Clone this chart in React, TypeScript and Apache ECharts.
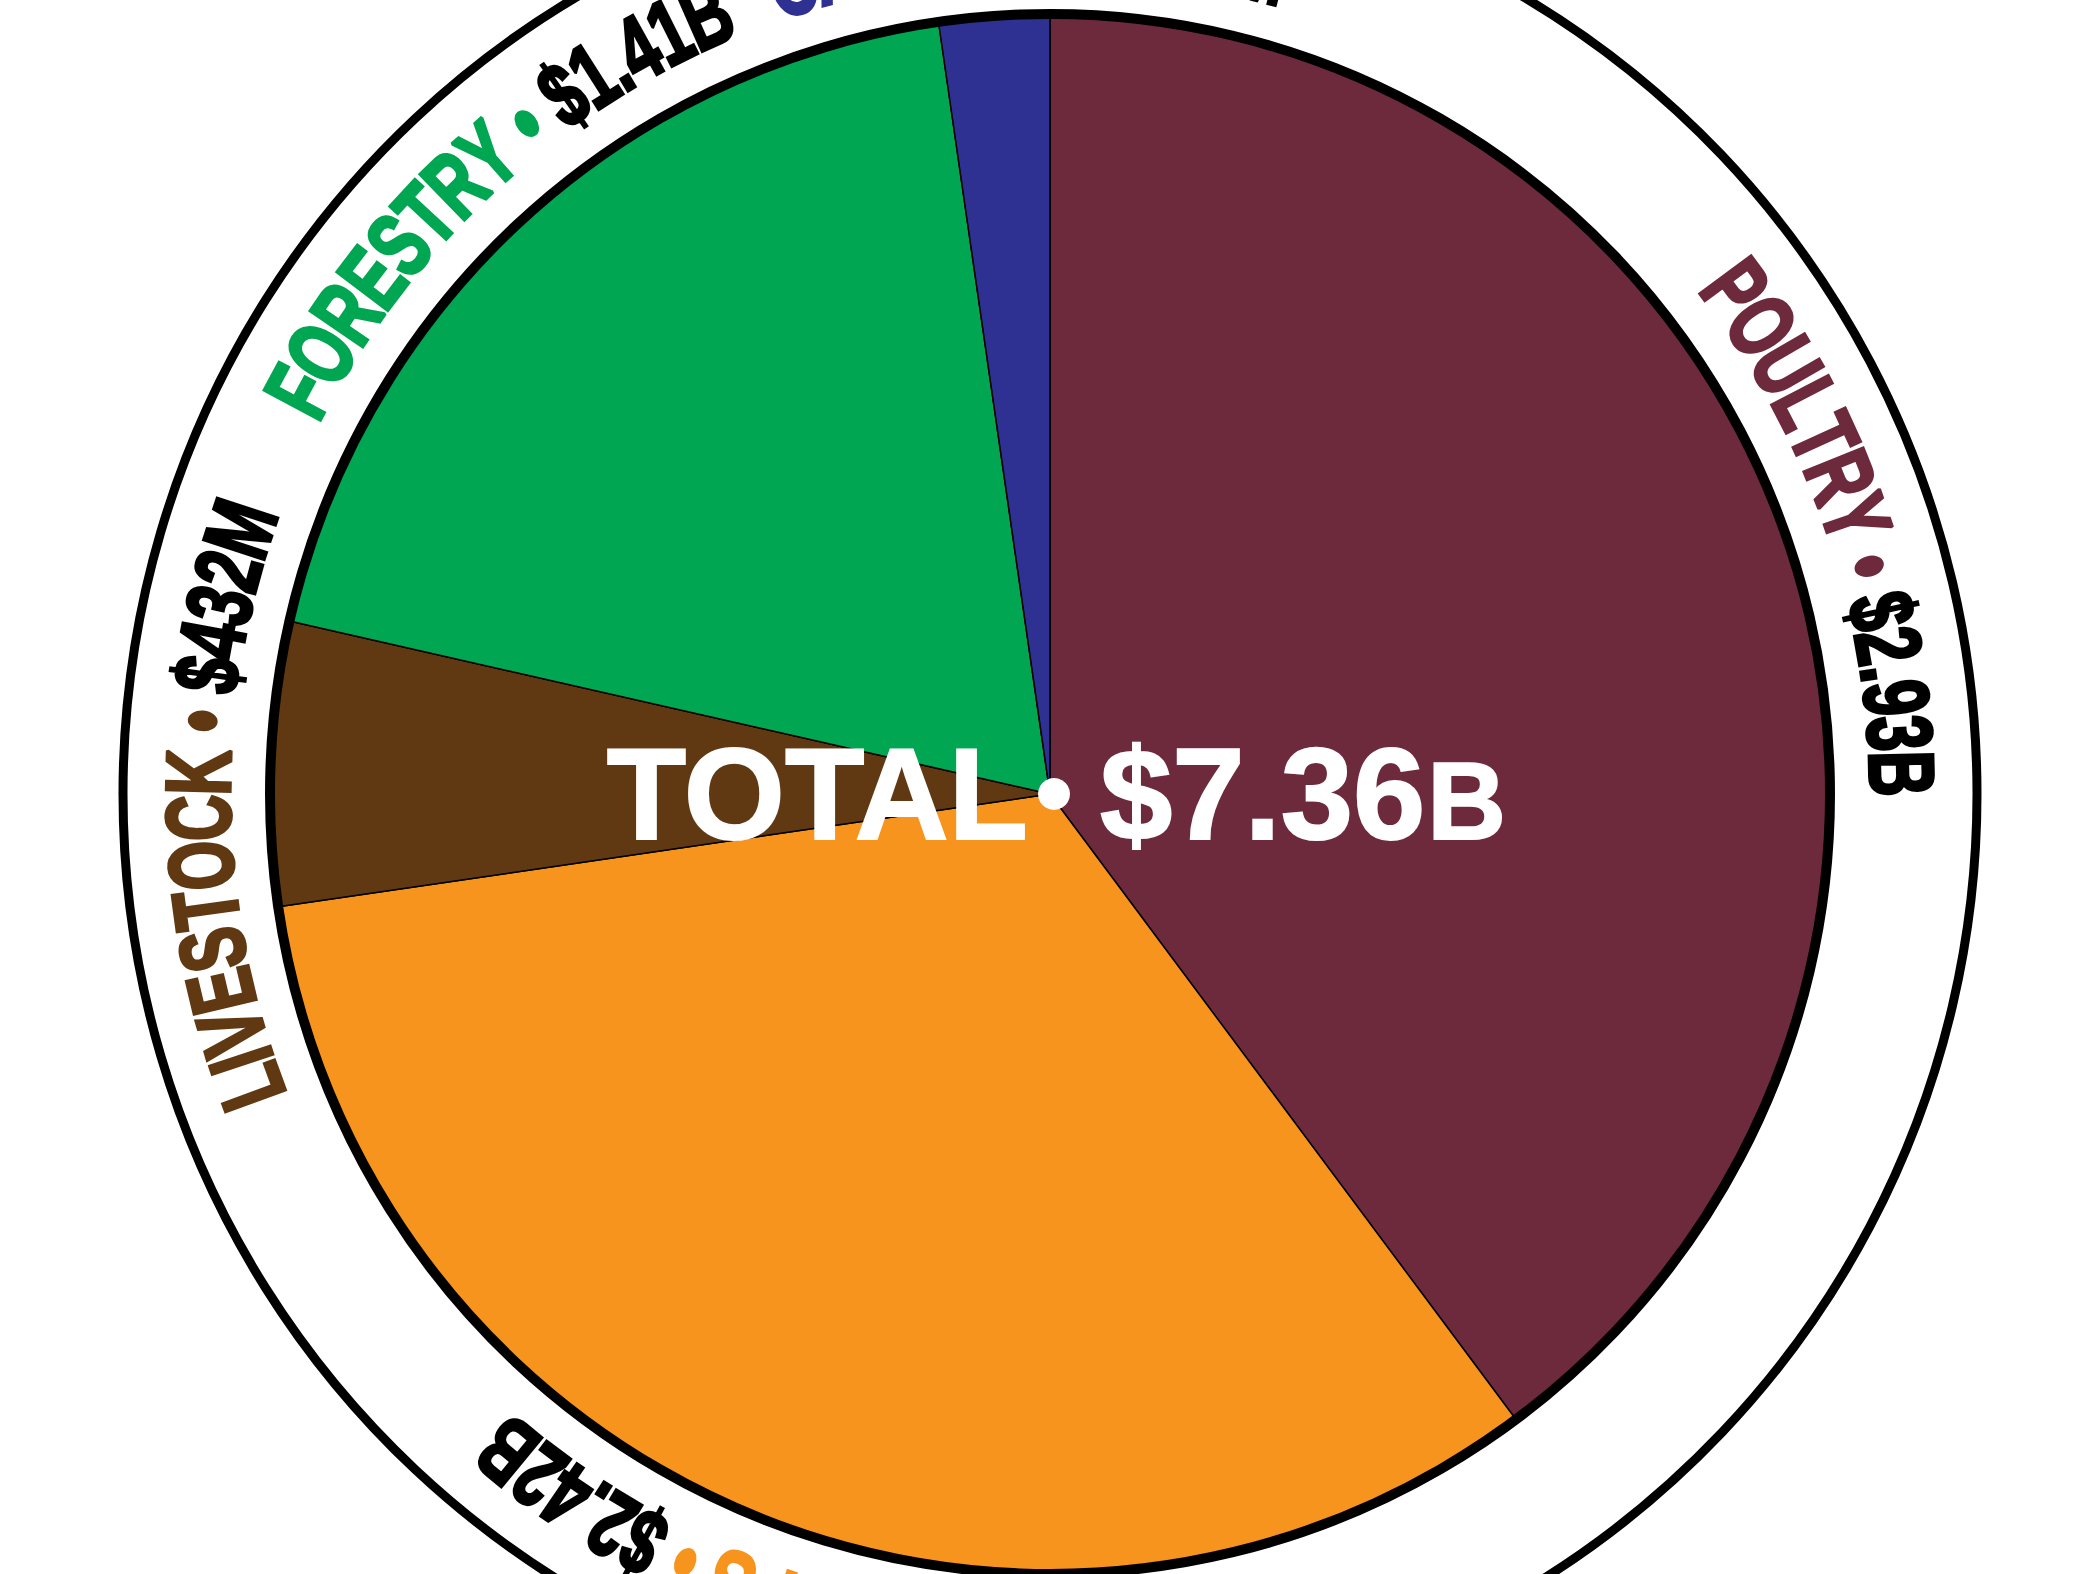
import React, { useEffect, useRef } from "react";
import * as echarts from "echarts";

// ---- data ----
const categories = ["POULTRY", "CROPS", "LIVESTOCK", "FORESTRY", "CATFISH"];
const values = [2.93, 2.42, 0.432, 1.41, 0.168]; // billions of dollars
const valueLabels = ["$2.93B", "$2.42B", "$432M", "$1.41B", "$168M"];
const colors = ["#6E2A3D", "#F7941D", "#603913", "#00A651", "#2E3192"];
const totalWord = "TOTAL";

// ---- layout ----
const W = 2100;
const H = 1574;
const CX = 1050;
const CY = 794;
const PIE_R = 780;
const RING_R = 927;
const TEXT_R = 852;
const RING_FONT = 92;
const CONDENSE = 0.69;
const FAMILY = "Liberation Sans";
const CENTER_FONT = 130;
const labelShiftDeg = [-0.5, 2.2, -3, 0, 2.6];

function makeMeasure() {
  const canvas = document.createElement("canvas");
  const ctx = canvas.getContext("2d");
  return (text: string, size: number) => {
    if (!ctx) return text.length * size * 0.6;
    ctx.font = `bold ${size}px "${FAMILY}"`;
    return ctx.measureText(text).width;
  };
}

export default function App() {
  const ref = useRef<HTMLDivElement>(null);

  useEffect(() => {
    if (!ref.current) return;
    const chart = echarts.init(ref.current, undefined, { renderer: "svg" });
    const measure = makeMeasure();
    const total = values.reduce((a, b) => a + b, 0);

    const graphics: any[] = [];

    // outer thin ring
    graphics.push({
      type: "circle",
      silent: true,
      z: 5,
      shape: { cx: CX, cy: CY, r: RING_R },
      style: { fill: "none", stroke: "#000", lineWidth: 9 },
    });
    // thick pie outline
    graphics.push({
      type: "circle",
      silent: true,
      z: 50,
      shape: { cx: CX, cy: CY, r: PIE_R },
      style: { fill: "none", stroke: "#000", lineWidth: 10 },
    });

    // curved labels
    let cum = 0;
    values.forEach((v, i) => {
      const mid =
        ((cum + v / 2) / total) * Math.PI * 2 + (labelShiftDeg[i] * Math.PI) / 180;
      cum += v;
      const chars: { ch: string; color: string; w: number }[] = [];
      const push = (s: string, color: string) => {
        for (const ch of Array.from(s)) {
          chars.push({ ch, color, w: measure(ch, RING_FONT) * CONDENSE });
        }
      };
      push(categories[i], colors[i]);
      push(" \u2022 ", colors[i]);
      push(valueLabels[i], "#000");
      const L = chars.reduce((a, c) => a + c.w, 0);
      let acc = 0;
      const start = mid - L / 2 / TEXT_R;
      chars.forEach((c) => {
        const th = start + (acc + c.w / 2) / TEXT_R;
        acc += c.w;
        if (c.ch === " ") return;
        graphics.push({
          type: "text",
          silent: true,
          z: 20,
          x: CX + TEXT_R * Math.sin(th),
          y: CY - TEXT_R * Math.cos(th),
          rotation: -th,
          scaleX: CONDENSE,
          style: {
            text: c.ch,
            fill: c.color,
            stroke: c.color,
            lineWidth: 3.5,
            fontFamily: FAMILY,
            fontWeight: "bold",
            fontSize: RING_FONT,
            align: "center",
            verticalAlign: "middle",
          },
        });
      });
    });

    // center total
    const uSize = Math.round(CENTER_FONT * 0.84);
    const totalNum = "$" + total.toFixed(2);
    const numW = measure(totalNum, CENTER_FONT);
    const centerText = (text: string, x: number, y: number, size: number, align: string) => ({
      type: "text",
      silent: true,
      z: 60,
      x,
      y,
      style: {
        text,
        fill: "#fff",
        stroke: "#fff",
        lineWidth: 2,
        fontFamily: FAMILY,
        fontWeight: "bold",
        fontSize: size,
        align,
        verticalAlign: "bottom",
      },
    });
    graphics.push(centerText(totalWord, CX - 22, CY + 65, CENTER_FONT, "right"));
    graphics.push({
      type: "circle",
      silent: true,
      z: 60,
      shape: { cx: CX + 4, cy: CY, r: 16 },
      style: { fill: "#fff" },
    });
    graphics.push(centerText(totalNum, CX + 50, CY + 65, CENTER_FONT, "left"));
    graphics.push(centerText("B", CX + 50 + numW + 2, CY + 61, uSize, "left"));

    chart.setOption({
      animation: false,
      backgroundColor: "#ffffff",
      series: [
        {
          type: "pie",
          center: [CX, CY],
          radius: PIE_R,
          startAngle: 90,
          clockwise: true,
          silent: true,
          label: { show: false },
          labelLine: { show: false },
          emphasis: { disabled: true },
          itemStyle: { borderColor: "#000", borderWidth: 1.5 },
          data: categories.map((name, i) => ({
            name,
            value: values[i],
            itemStyle: { color: colors[i] },
          })),
        },
      ],
      graphic: graphics,
    });

    return () => chart.dispose();
  }, []);

  return (
    <div
      ref={ref}
      style={{ position: "fixed", left: 0, top: 0, width: W, height: H }}
    />
  );
}
